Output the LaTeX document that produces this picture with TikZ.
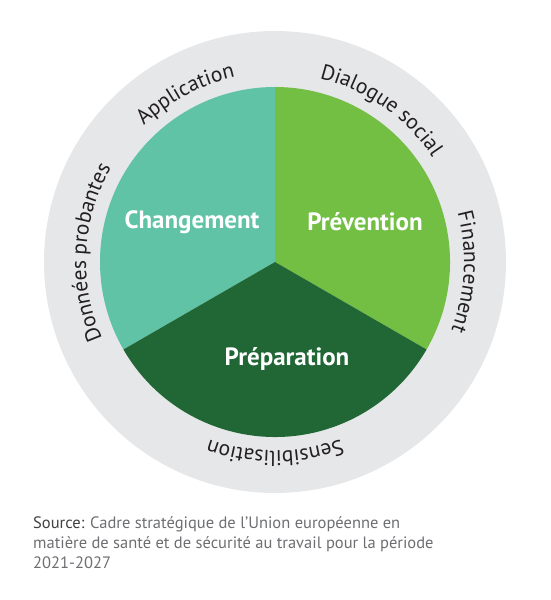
\documentclass[tikz,border=0pt]{standalone}
\usepackage{fontspec}
\setmainfont{PT Sans}
\usetikzlibrary{decorations.text}
\definecolor{ringgray}{HTML}{E6E7E8}
\definecolor{cteal}{HTML}{61C3A6}
\definecolor{clight}{HTML}{72BF44}
\definecolor{cdark}{HTML}{216635}
\definecolor{ctext}{HTML}{231F20}
\definecolor{csrc}{HTML}{6D6E71}
\definecolor{csrcb}{HTML}{414042}
\begin{document}
\begin{tikzpicture}[x=1pt,y=1pt,
  pillar/.style={font=\fontsize{25}{29}\selectfont\bfseries, text=white, inner sep=0pt},
  srcline/.style={font=\fontsize{16.5}{20}\selectfont, text=csrc, anchor=base west, inner sep=0pt},
  ringtext/.style={decorate, decoration={text along path, text align=center, text color=ctext,
     text={|\fontsize{21.5}{25}\selectfont|#1}}}]
\useasboundingbox (0,0) rectangle (551,600);
\coordinate (c) at (275,338);
\fill[ringgray] (c) circle (231);
\fill[cteal] (c) -- ++(90:175) arc (90:210:175) -- cycle;
\fill[clight] (c) -- ++(-30:175) arc (-30:90:175) -- cycle;
\fill[cdark] (c) -- ++(210:175) arc (210:330:175) -- cycle;
% ring labels, clockwise
\path[ringtext={Application}] (c) ++(162:189) arc (162:74:189);
\path[ringtext={Dialogue social}] (c) ++(99:189) arc (99:11:189);
\path[ringtext={Financement}] (c) ++(41:189) arc (41:-47:189);
\path[ringtext={Sensibilisation}] (c) ++(-46:189) arc (-46:-134:189);
\path[ringtext={Données probantes}] (c) ++(222:189) arc (222:132:189);
% pillars
\node[pillar] (chg) at (192,378) {Changement};
\node[pillar] (prev) at (365,378) {Prévention};
\node[pillar] (prep) at (287,241) {Préparation};
% source
\node[srcline] (s1) at (33,71) {\textcolor{csrcb}{Source:} Cadre stratégique de l’Union européenne en};
\node[srcline] (s2) at (33,51) {matière de santé et de sécurité au travail pour la période};
\node[srcline] (s3) at (33,31) {2021-2027};
\end{tikzpicture}
\end{document}
